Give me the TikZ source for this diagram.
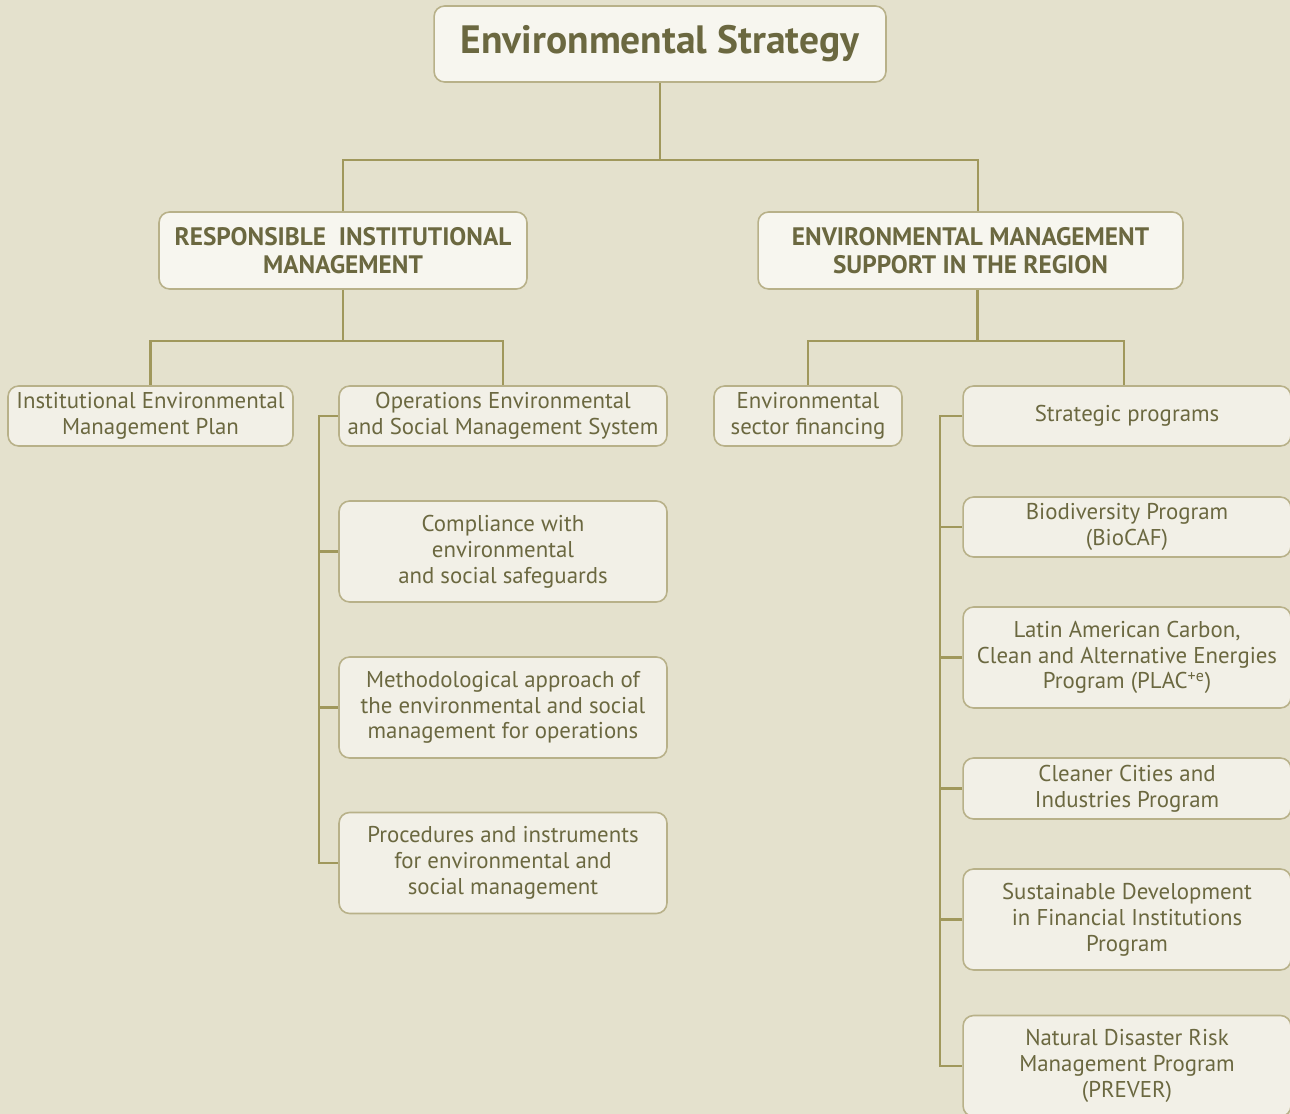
\documentclass[tikz,border=0pt]{standalone}
\usepackage{fontspec}
\setmainfont{PT Sans}
\definecolor{paper}{HTML}{E4E1CD}
\definecolor{boxfill}{HTML}{F2F0E7}
\definecolor{topfill}{HTML}{F7F6EF}
\definecolor{boxline}{HTML}{B8B189}
\definecolor{linkline}{HTML}{A0985C}
\definecolor{ink}{HTML}{6B6840}
\begin{document}
\begin{tikzpicture}[x=0.02cm, y=-0.02cm,
    box/.style={draw=boxline, line width=0.9pt, fill=boxfill, rounded corners=6pt, text=ink, align=center,
        inner sep=0pt, font=\fontsize{13}{14.7}\selectfont},
    headbox/.style={box, fill=topfill, font=\fontsize{14.4}{15.9}\selectfont\bfseries},
    link/.style={draw=linkline, line width=1.3pt}]
\fill[paper] (0,0) rectangle (1290,1114);
\useasboundingbox (0,0) rectangle (1290,1114);
\clip (0,0) rectangle (1290,1114);
\node[box, fill=topfill, minimum width=9.04cm, minimum height=1.52cm, font=\fontsize{22.5}{26}\selectfont\bfseries] (strategy) at (660,44) {Environmental Strategy};
\node[headbox, minimum width=7.36cm, minimum height=1.54cm] (institutional) at (343,250.5) {RESPONSIBLE\ \ INSTITUTIONAL\\MANAGEMENT};
\node[headbox, minimum width=8.5cm, minimum height=1.54cm] (regional) at (970.5,250.5) {ENVIRONMENTAL MANAGEMENT\\SUPPORT IN THE REGION};
\node[box, minimum width=5.7cm, minimum height=1.2cm] (plan) at (150.5,416) {Institutional Environmental\\Management Plan};
\node[box, minimum width=6.56cm, minimum height=1.2cm] (system) at (503,416) {Operations Environmental\\and Social Management System};
\node[box, minimum width=6.56cm, minimum height=2.02cm] (compliance) at (503,551.5) {Compliance with\\environmental\\and social safeguards};
\node[box, minimum width=6.56cm, minimum height=2.02cm] (method) at (503,707.5) {Methodological approach of\\the environmental and social\\management for operations};
\node[box, minimum width=6.56cm, minimum height=2.02cm] (procedures) at (503,863) {Procedures and instruments\\for environmental and\\social management};
\node[box, minimum width=3.76cm, minimum height=1.2cm] (financing) at (808,416) {Environmental\\sector financing};
\node[box, minimum width=6.56cm, minimum height=1.2cm] (programs) at (1127,416) {Strategic programs};
\node[box, minimum width=6.56cm, minimum height=1.2cm] (biocaf) at (1127,527) {Biodiversity Program\\(BioCAF)};
\node[box, minimum width=6.56cm, minimum height=2.02cm] (plac) at (1127,657.5) {Latin American Carbon,\\Clean and Alternative Energies\\Program (PLAC\textsuperscript{+e})};
\node[box, minimum width=6.56cm, minimum height=1.22cm] (cities) at (1127,788.5) {Cleaner Cities and\\Industries Program};
\node[box, minimum width=6.56cm, minimum height=2.02cm] (finance) at (1127,919.5) {Sustainable Development\\in Financial Institutions\\Program};
\node[box, minimum width=6.56cm, minimum height=2.02cm] (prever) at (1127,1066) {Natural Disaster Risk\\Management Program\\(PREVER)};
\draw[link] (strategy.south) -- ++(0,77) coordinate (topfork);
\draw[link] (institutional.north) |- (topfork) -| ([xshift=0.15cm]regional.north);
\draw[link] (institutional.south) -- ++(0,51) coordinate (leftfork);
\draw[link] (plan.north) |- (leftfork) -| (system.north);
\draw[link] ([xshift=0.14cm]regional.south) -- ++(0,51) coordinate (rightfork);
\draw[link] (financing.north) |- (rightfork) -| ([xshift=-0.06cm]programs.north);
\draw[link] (system.west) -- ++(-19,0) coordinate (leftspine) |- (procedures.west);
\foreach \n in {compliance, method} \draw[link] (\n.west) -- (\n.west -| leftspine);
\draw[link] (programs.west) -- ++(-22,0) coordinate (rightspine) |- (prever.west);
\foreach \n in {biocaf, plac, cities, finance} \draw[link] (\n.west) -- (\n.west -| rightspine);
\end{tikzpicture}
\end{document}
